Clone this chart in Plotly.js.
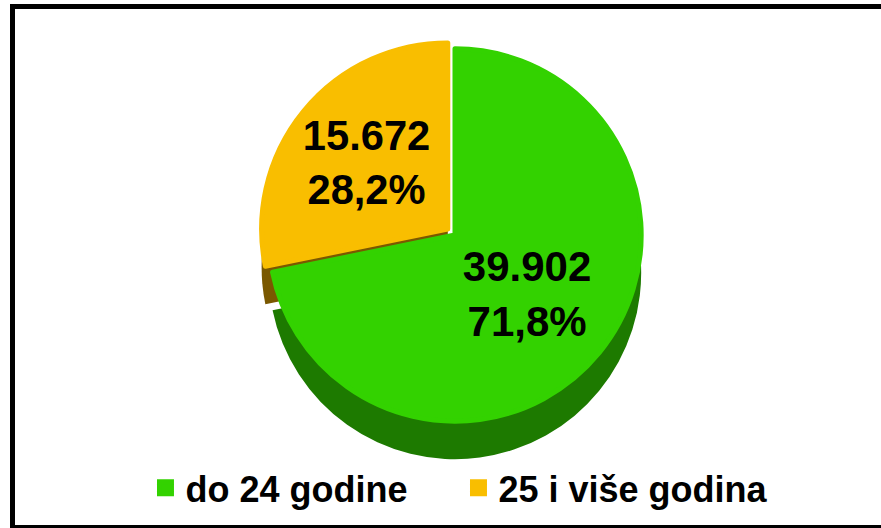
<!DOCTYPE html>
<html>
<head>
<meta charset="utf-8">
<script src="https://cdn.plot.ly/plotly-3.0.1.min.js"></script>
<style>
html, body { margin: 0; padding: 0; background: #ffffff; }
#chart { width: 881px; height: 528px; }
</style>
</head>
<body>
<div id="chart"></div>
<script>
// Data
const categories = ["do 24 godine", "25 i više godina"];
const values = [39902, 15672];
const topColors = ["#33d200", "#f9be00"];
const sideColors = ["#1d7a00", "#7a5800"];
const pulls = [0, 0.05];

const fontFam = "'Liberation Sans', Arial, sans-serif";

const sideTrace = {
  type: "pie",
  labels: categories,
  values: values,
  sort: false,
  direction: "clockwise",
  rotation: 0,
  pull: pulls,
  marker: { colors: sideColors, line: { width: 0 } },
  textinfo: "none",
  hoverinfo: "skip",
  showlegend: false,
  domain: { x: [0.0329, 1], y: [0.1127, 0.8532] }
};

const topTrace = {
  type: "pie",
  labels: categories,
  values: values,
  sort: false,
  direction: "clockwise",
  rotation: 0,
  pull: pulls,
  marker: { colors: topColors, line: { color: topColors, width: 5 } },
  texttemplate: "%{value:,.0f}<br>%{percent:.1%}",
  textposition: "inside",
  insidetextorientation: "horizontal",
  textfont: { family: fontFam, size: 42, color: "#000000", weight: "bold" },
  domain: { x: [0.0329, 1], y: [0.1847, 0.9252] }
};

const layout = {
  width: 881,
  height: 528,
  margin: { l: 0, r: 0, t: 0, b: 0, pad: 0 },
  paper_bgcolor: "#ffffff",
  separators: ",.",
  showlegend: true,
  legend: {
    orientation: "h",
    x: 0.5204,
    xanchor: "center",
    y: 0.076,
    yanchor: "middle",
    entrywidth: 268,
    font: { family: fontFam, size: 36, color: "#000000", weight: "bold" },
    bgcolor: "rgba(0,0,0,0)"
  },
  shapes: [
    { type: "line", xref: "paper", yref: "paper", x0: 10 / 881, x1: 1, y0: (528 - 6.5) / 528, y1: (528 - 6.5) / 528, line: { color: "#000000", width: 5 } },
    { type: "line", xref: "paper", yref: "paper", x0: 12.5 / 881, x1: 12.5 / 881, y0: 0, y1: (528 - 4) / 528, line: { color: "#000000", width: 5 } },
    { type: "line", xref: "paper", yref: "paper", x0: 10 / 881, x1: 1, y0: 1.5 / 528, y1: 1.5 / 528, line: { color: "#000000", width: 3 } }
  ]
};

Plotly.newPlot("chart", [sideTrace, topTrace], layout, { displayModeBar: false, staticPlot: true });
</script>
</body>
</html>
